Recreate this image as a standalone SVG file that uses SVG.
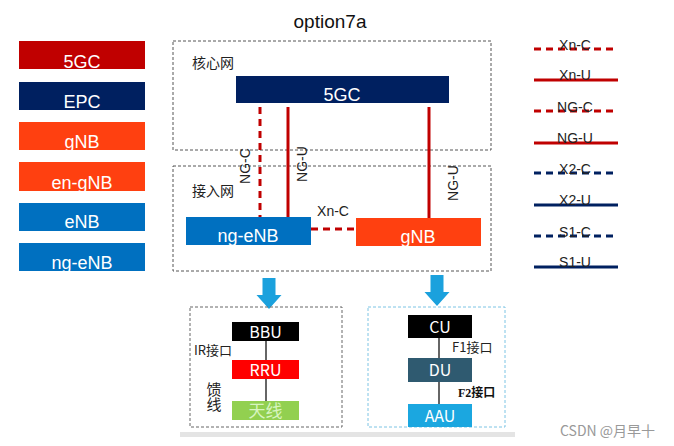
<svg xmlns="http://www.w3.org/2000/svg" width="674" height="446" viewBox="0 0 674 446">
<style>
.s{font-family:"Liberation Sans","Noto Sans CJK SC",Arial,sans-serif}
.c{font-family:"Noto Sans CJK SC","Liberation Sans",sans-serif}
.w{fill:#fff}
.lg{font-size:18px;text-anchor:middle}
.lt{font-size:14px;fill:#222;text-anchor:middle}
.box{fill:none;stroke:#555;stroke-width:1;stroke-dasharray:3,2}
.red{stroke:#C00000;stroke-width:3}
.navy{stroke:#002060;stroke-width:3}
.dash{stroke-dasharray:7,5}
.ln{stroke:#333;stroke-width:1.5}
</style>
<rect width="674" height="446" fill="#fff"/>
<text x="330" y="28" class="s" font-size="19" text-anchor="middle" fill="#111">option7a</text>

<g id="legend-nodes">
<g id="leg-5gc"><rect x="19" y="41" width="126" height="28" fill="#C00000"/><text x="82" y="68" class="s lg w">5GC</text></g>
<g id="leg-epc"><rect x="19" y="82" width="126" height="28" fill="#002060"/><text x="82" y="108" class="s lg w">EPC</text></g>
<g id="leg-gnb"><rect x="19" y="122" width="126" height="28" fill="#FF4010"/><text x="82" y="148" class="s lg w">gNB</text></g>
<g id="leg-engnb"><rect x="19" y="162" width="126" height="29" fill="#FF4010"/><text x="82" y="189" class="s lg w">en-gNB</text></g>
<g id="leg-enb"><rect x="19" y="203" width="126" height="28" fill="#0070C0"/><text x="82" y="228" class="s lg w">eNB</text></g>
<g id="leg-ngenb"><rect x="19" y="243" width="126" height="28" fill="#0070C0"/><text x="82" y="269" class="s lg w">ng-eNB</text></g>
</g>

<g id="legend-lines">
<line x1="534" y1="49" x2="618" y2="49" class="red dash"/><text x="575" y="50" class="s lt">Xn-C</text>
<line x1="534" y1="80" x2="618" y2="80" class="red"/><text x="575" y="80" class="s lt">Xn-U</text>
<line x1="534" y1="111" x2="618" y2="111" class="red dash"/><text x="575" y="112" class="s lt">NG-C</text>
<line x1="534" y1="143" x2="618" y2="143" class="red"/><text x="575" y="143" class="s lt">NG-U</text>
<line x1="534" y1="173" x2="618" y2="173" class="navy dash"/><text x="575" y="174" class="s lt">X2-C</text>
<line x1="534" y1="205" x2="618" y2="205" class="navy"/><text x="575" y="205" class="s lt">X2-U</text>
<line x1="534" y1="236" x2="618" y2="236" class="navy dash"/><text x="575" y="237" class="s lt">S1-C</text>
<line x1="534" y1="267" x2="618" y2="267" class="navy"/><text x="575" y="267" class="s lt">S1-U</text>
</g>

<g id="core-net"><rect x="173" y="41" width="318" height="109" class="box"/><text x="192" y="68" class="c" font-size="14" fill="#222">核心网</text></g>
<g id="access-net"><rect x="173" y="166" width="318" height="105" class="box"/><text x="192" y="196" class="c" font-size="14" fill="#222">接入网</text></g>

<g id="connectors">
<line x1="260" y1="107" x2="260" y2="217" class="red dash"/>
<line x1="288" y1="107" x2="288" y2="217" class="red"/>
<line x1="429" y1="107" x2="429" y2="218" class="red"/>
<line x1="311" y1="229" x2="356" y2="229" class="red dash"/>
<text transform="translate(250,166) rotate(-90)" class="s lt">NG-C</text>
<text transform="translate(307,164) rotate(-90)" class="s lt">NG-U</text>
<text transform="translate(458,183) rotate(-90)" class="s lt">NG-U</text>
<text x="333" y="216" class="s lt">Xn-C</text>
<line x1="266" y1="341" x2="266" y2="360" class="ln"/>
<line x1="266" y1="379" x2="266" y2="401" class="ln"/>
<line x1="439" y1="338" x2="439" y2="358" class="ln"/>
<line x1="439" y1="382" x2="439" y2="404" class="ln"/>
</g>

<g id="n-5gc"><rect x="236" y="76" width="213" height="27" fill="#002060"/><text x="342" y="101" class="s lg w">5GC</text></g>
<g id="n-ngenb"><rect x="186" y="217" width="125" height="28" fill="#0070C0"/><text x="248" y="242" class="s lg w">ng-eNB</text></g>
<g id="n-gnb"><rect x="356" y="218" width="125" height="28" fill="#FF4010"/><text x="418" y="243" class="s lg w">gNB</text></g>

<g id="arrows" fill="#1BA1DD">
<path d="M262.5,278 h13 v17 h6 l-12.5,14 l-12.5,-14 h6 z"/>
<path d="M430.5,275 h13 v17 h6 l-12.5,14 l-12.5,-14 h6 z"/>
</g>

<g id="box-4g"><rect x="190" y="307" width="152" height="120" fill="none" stroke="#666" stroke-width="1" stroke-dasharray="3,2"/></g>
<g id="box-5g"><rect x="368" y="307" width="137" height="120" fill="none" stroke="#7CC4E4" stroke-width="1" stroke-dasharray="3,2"/></g>

<g id="n-bbu"><rect x="232" y="322" width="67" height="19" fill="#000"/><text x="265.5" y="337.5" class="c w" font-size="16" text-anchor="middle">BBU</text></g>
<g id="n-rru"><rect x="232" y="360" width="67" height="19" fill="#FF0000"/><text x="265.5" y="375.5" class="c w" font-size="16" text-anchor="middle">RRU</text></g>
<g id="n-ant"><rect x="232" y="401" width="67" height="19" fill="#92D050"/><text x="265.5" y="417" class="c" font-size="17" text-anchor="middle" fill="#D8F5C0">天线</text></g>
<text x="194" y="355" class="c" font-size="13" fill="#222">IR接口</text>
<text x="214" y="382" class="c" font-size="15" fill="#222" writing-mode="tb" style="writing-mode:vertical-rl">馈线</text>

<g id="n-cu"><rect x="408" y="315" width="64" height="23" fill="#000"/><text x="440" y="332.5" class="c w" font-size="16" text-anchor="middle">CU</text></g>
<g id="n-du"><rect x="408" y="358" width="64" height="24" fill="#2F5A70"/><text x="440" y="376" class="c w" font-size="16" text-anchor="middle">DU</text></g>
<g id="n-aau"><rect x="408" y="404" width="64" height="23" fill="#1BA7E0"/><text x="440" y="421.5" class="c w" font-size="16" text-anchor="middle">AAU</text></g>
<text x="452" y="352" class="c" font-size="13" fill="#222">F1接口</text>
<text x="458" y="397" font-family="'Liberation Serif','Noto Sans CJK SC',serif" font-size="12" font-weight="bold" fill="#111">F2接口</text>

<rect x="180" y="432" width="335" height="5" fill="#E4E4E4"/>
<text x="560" y="436" class="c" font-size="14" fill="#999">CSDN @月早十</text>
</svg>
